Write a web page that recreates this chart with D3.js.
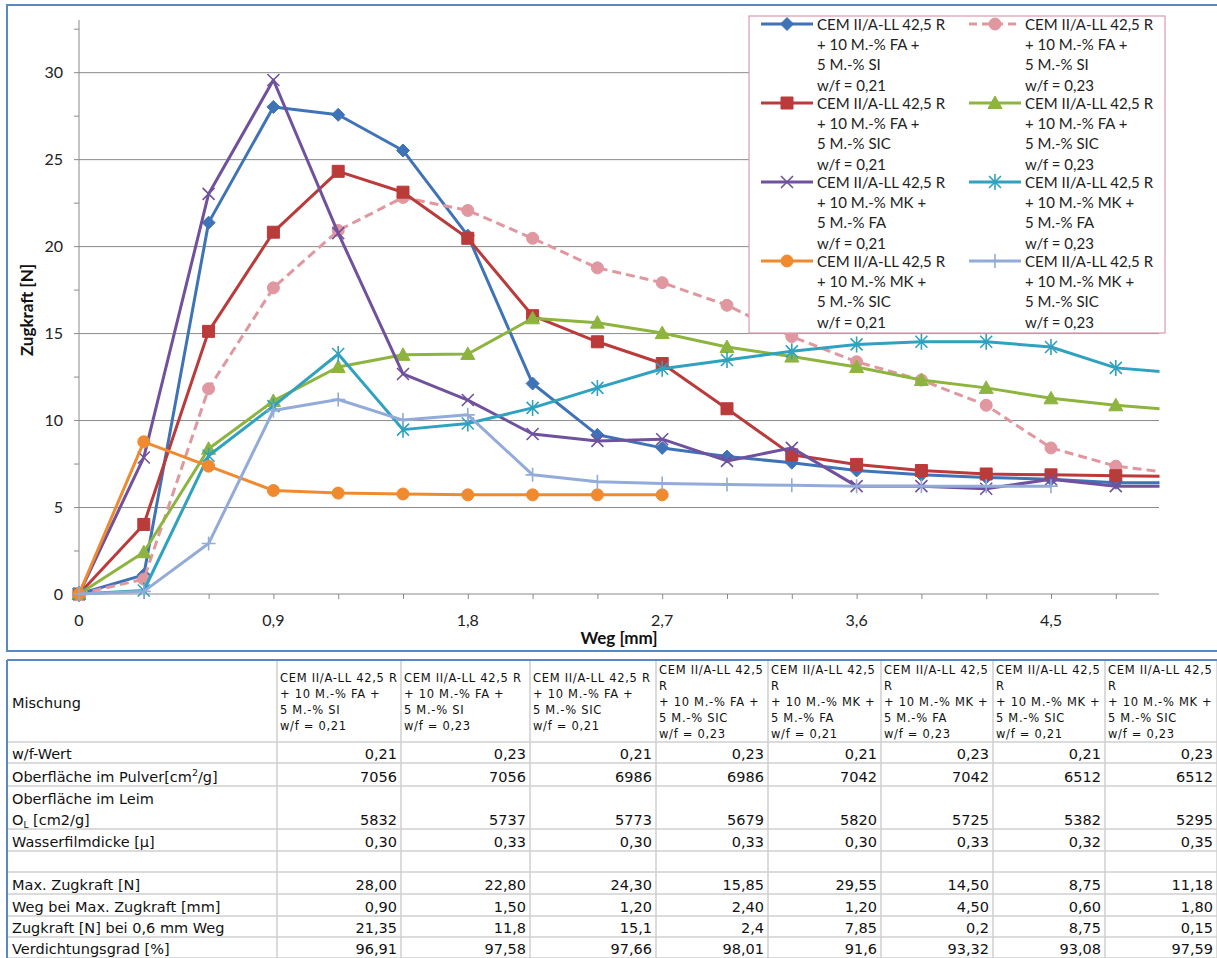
<!DOCTYPE html>
<html>
<head>
<meta charset="utf-8">
<script src="https://cdn.jsdelivr.net/npm/d3@7"></script>
<style>
  html, body { margin: 0; padding: 0; background: #fff; }
  svg { display: block; }
</style>
</head>
<body>
<svg id="chart" width="1217" height="958"></svg>
<script>
// ---- Messwerte: Zugkraft [N] über Weg [mm] ----
const weg = [0, 0.3, 0.6, 0.9, 1.2, 1.5, 1.8, 2.1, 2.4, 2.7, 3.0, 3.3, 3.6, 3.9, 4.2, 4.5, 4.8, 5.1];

const faSi021   = [0, 1.1, 21.35, 28.0, 27.55, 25.5, 20.6, 12.1, 9.15, 8.4, 7.9, 7.55, 7.1, 6.85, 6.7, 6.6, 6.4, 6.4];
const faSi023   = [0, 0.85, 11.8, 17.6, 20.9, 22.8, 22.05, 20.45, 18.75, 17.9, 16.6, 14.8, 13.35, 12.3, 10.85, 8.4, 7.35, 6.9];
const faSic021  = [0, 4.0, 15.1, 20.8, 24.3, 23.1, 20.45, 16.0, 14.5, 13.25, 10.65, 8.0, 7.45, 7.1, 6.9, 6.85, 6.8, 6.75];
const faSic023  = [0, 2.4, 8.35, 11.1, 13.05, 13.75, 13.8, 15.85, 15.6, 15.0, 14.2, 13.65, 13.05, 12.3, 11.85, 11.25, 10.85, 10.55];
const mkFa021   = [0, 7.85, 23.0, 29.55, 20.75, 12.65, 11.15, 9.2, 8.8, 8.9, 7.65, 8.4, 6.2, 6.2, 6.05, 6.6, 6.2, 6.2];
const mkFa023   = [0, 0.2, 7.95, 10.8, 13.8, 9.45, 9.8, 10.7, 11.85, 12.95, 13.45, 13.95, 14.35, 14.5, 14.5, 14.2, 13.0, 12.7];
const mkSic021  = [0, 8.75, 7.35, 5.95, 5.8, 5.75, 5.7, 5.7, 5.7, 5.7];
const mkSic023  = [0, 0.15, 2.9, 10.55, 11.18, 10.0, 10.3, 6.85, 6.45, 6.35, 6.3, 6.25, 6.2, 6.2, 6.2, 6.2];

const legendLabels = [
  ["CEM II/A-LL 42,5 R", "+ 10 M.-% FA +", "5 M.-% SI", "w/f = 0,21"],
  ["CEM II/A-LL 42,5 R", "+ 10 M.-% FA +", "5 M.-% SI", "w/f = 0,23"],
  ["CEM II/A-LL 42,5 R", "+ 10 M.-% FA +", "5 M.-% SIC", "w/f = 0,21"],
  ["CEM II/A-LL 42,5 R", "+ 10 M.-% FA +", "5 M.-% SIC", "w/f = 0,23"],
  ["CEM II/A-LL 42,5 R", "+ 10 M.-% MK +", "5 M.-% FA", "w/f = 0,21"],
  ["CEM II/A-LL 42,5 R", "+ 10 M.-% MK +", "5 M.-% FA", "w/f = 0,23"],
  ["CEM II/A-LL 42,5 R", "+ 10 M.-% MK +", "5 M.-% SIC", "w/f = 0,21"],
  ["CEM II/A-LL 42,5 R", "+ 10 M.-% MK +", "5 M.-% SIC", "w/f = 0,23"]
];

const xTickValues  = [0, 0.3, 0.6, 0.9, 1.2, 1.5, 1.8, 2.1, 2.4, 2.7, 3.0, 3.3, 3.6, 3.9, 4.2, 4.5, 4.8];
const xLabelValues = [0, 0.9, 1.8, 2.7, 3.6, 4.5];
const yTickValues  = [0, 5, 10, 15, 20, 25, 30];
const yMinorValues = [0, 2.5, 5, 7.5, 10, 12.5, 15, 17.5, 20, 22.5, 25, 27.5, 30, 32.5];

// ---- Tabelle ----
const tableHeaders = [
  ["CEM II/A-LL 42,5 R", "+ 10 M.-% FA +", "5 M.-% SI", "w/f = 0,21"],
  ["CEM II/A-LL 42,5 R", "+ 10 M.-% FA +", "5 M.-% SI", "w/f = 0,23"],
  ["CEM II/A-LL 42,5 R", "+ 10 M.-% FA +", "5 M.-% SIC", "w/f = 0,21"],
  ["CEM II/A-LL 42,5", "R", "+ 10 M.-% FA +", "5 M.-% SIC", "w/f = 0,23"],
  ["CEM II/A-LL 42,5", "R", "+ 10 M.-% MK +", "5 M.-% FA", "w/f = 0,21"],
  ["CEM II/A-LL 42,5", "R", "+ 10 M.-% MK +", "5 M.-% FA", "w/f = 0,23"],
  ["CEM II/A-LL 42,5", "R", "+ 10 M.-% MK +", "5 M.-% SIC", "w/f = 0,21"],
  ["CEM II/A-LL 42,5", "R", "+ 10 M.-% MK +", "5 M.-% SIC", "w/f = 0,23"]
];
const wfWert          = ["0,21", "0,23", "0,21", "0,23", "0,21", "0,23", "0,21", "0,23"];
const oberflPulver    = ["7056", "7056", "6986", "6986", "7042", "7042", "6512", "6512"];
const oberflLeim      = ["5832", "5737", "5773", "5679", "5820", "5725", "5382", "5295"];
const wasserfilm      = ["0,30", "0,33", "0,30", "0,33", "0,30", "0,33", "0,32", "0,35"];
const maxZugkraft     = ["28,00", "22,80", "24,30", "15,85", "29,55", "14,50", "8,75", "11,18"];
const wegBeiMax       = ["0,90", "1,50", "1,20", "2,40", "1,20", "4,50", "0,60", "1,80"];
const zugkraftBei06   = ["21,35", "11,8", "15,1", "2,4", "7,85", "0,2", "8,75", "0,15"];
const verdichtung     = ["96,91", "97,58", "97,66", "98,01", "91,6", "93,32", "93,08", "97,59"];

// ---- Darstellung der Reihen ----
const seriesStyle = [
  { values: faSi021,  color: "#3f73b8", marker: "diamond" },
  { values: faSi023,  color: "#e0979f", marker: "circle", dash: "9,5" },
  { values: faSic021, color: "#bb3a3a", marker: "square" },
  { values: faSic023, color: "#8db43e", marker: "triangle" },
  { values: mkFa021,  color: "#6f519d", marker: "cross" },
  { values: mkFa023,  color: "#2ea2bf", marker: "star" },
  { values: mkSic021, color: "#ef8a2e", marker: "circle" },
  { values: mkSic023, color: "#93abd8", marker: "plus" }
];

const svg = d3.select("#chart");

// Diagrammrahmen
svg.append("rect").attr("x", 7).attr("y", 5).attr("width", 1230).attr("height", 646)
  .attr("fill", "#fff").attr("stroke", "#5b88c3").attr("stroke-width", 2);

const x = d3.scaleLinear().domain([0, 5]).range([79, 1159]);
const y = d3.scaleLinear().domain([0, 33]).range([594, 20]);
const de = d3.formatLocale({ decimal: ",", thousands: ".", grouping: [3], currency: ["", " €"] });
const fmt = de.format("~g");
const gridColor = "#8a8a8a";
const chartFont = "Lato, 'Open Sans', sans-serif";

// horizontale Gitterlinien
svg.append("g")
  .attr("transform", `translate(${x(0)},0)`)
  .call(d3.axisLeft(y).tickValues(yTickValues.filter(d => d > 0)).tickSize(-(x(5) - x(0))).tickFormat(""))
  .call(g => g.select(".domain").remove())
  .call(g => g.selectAll("line").attr("stroke", gridColor).attr("stroke-width", 1));

// y-Achse mit Teilstrichen
svg.append("g")
  .attr("transform", `translate(${x(0)},0)`)
  .call(d3.axisLeft(y).tickValues(yMinorValues).tickSize(5).tickFormat(""))
  .call(g => g.select(".domain").attr("stroke", gridColor).attr("d", `M0,${y(0)}V${y(33)}`))
  .call(g => g.selectAll("line").attr("stroke", gridColor));

svg.append("g").selectAll("text").data(yTickValues).join("text")
  .attr("x", 63).attr("y", d => y(d) + 6)
  .attr("text-anchor", "end")
  .attr("font-family", chartFont).attr("font-size", 16).attr("fill", "#222")
  .text(fmt);

// x-Achse
svg.append("g")
  .attr("transform", `translate(0,${y(0)})`)
  .call(d3.axisBottom(x).tickValues(xTickValues).tickSize(5).tickFormat(""))
  .call(g => g.select(".domain").attr("stroke", gridColor).attr("d", `M${x(0)},0H${x(5)}`))
  .call(g => g.selectAll("line").attr("stroke", gridColor));

svg.append("g").selectAll("text").data(xLabelValues).join("text")
  .attr("x", d => x(d)).attr("y", 626)
  .attr("text-anchor", "middle")
  .attr("font-family", chartFont).attr("font-size", 16).attr("fill", "#222")
  .text(fmt);

// Achsentitel
svg.append("text").attr("x", (x(0) + x(5)) / 2).attr("y", 644)
  .attr("text-anchor", "middle")
  .attr("font-family", chartFont).attr("font-size", 17).attr("font-weight", "bold").attr("fill", "#111")
  .text("Weg [mm]");
svg.append("text").attr("transform", "translate(33,310) rotate(-90)")
  .attr("text-anchor", "middle")
  .attr("font-family", chartFont).attr("font-size", 17).attr("font-weight", "bold").attr("fill", "#111")
  .text("Zugkraft [N]");

// Markerformen
const markerPaths = {
  diamond:  { d: "M0,-6.5L6.5,0L0,6.5L-6.5,0Z", filled: true },
  square:   { d: "M-6,-6H6V6H-6Z", filled: true },
  circle:   { d: "M6,0A6,6 0 1,1 -6,0A6,6 0 1,1 6,0Z", filled: true },
  triangle: { d: "M0,-7L7,5.5H-7Z", filled: true },
  cross:    { d: "M-6,-6L6,6M-6,6L6,-6", filled: false },
  star:     { d: "M-6,-6L6,6M-6,6L6,-6M0,-8V8", filled: false },
  plus:     { d: "M0,-7V7M-7,0H7", filled: false }
};
function drawMarker(sel, type, color) {
  const m = markerPaths[type];
  sel.attr("d", m.d)
    .attr("fill", m.filled ? color : "none")
    .attr("stroke", color)
    .attr("stroke-width", m.filled ? 1 : 1.6);
}

// Kurven (rechts am Achsende abgeschnitten)
svg.append("clipPath").attr("id", "plotClip")
  .append("rect").attr("x", 0).attr("y", 0).attr("width", x(5) + 0.5).attr("height", 650);

const plot = svg.append("g").attr("clip-path", "url(#plotClip)");
const line = d3.line().x((d, i) => x(weg[i])).y(d => y(d));

seriesStyle.forEach(s => {
  const g = plot.append("g");
  g.append("path").datum(s.values)
    .attr("d", line)
    .attr("fill", "none")
    .attr("stroke", s.color)
    .attr("stroke-width", 3)
    .attr("stroke-linejoin", "round")
    .attr("stroke-dasharray", s.dash || null);
  g.selectAll("path.mk").data(s.values).join("path")
    .attr("class", "mk")
    .attr("transform", (d, i) => `translate(${x(weg[i])},${y(d)})`)
    .call(sel => drawMarker(sel, s.marker, s.color));
});

// Legende
const legend = svg.append("g");
legend.append("rect").attr("x", 749).attr("y", 16).attr("width", 416).attr("height", 317)
  .attr("fill", "#fff").attr("stroke", "#d99aae").attr("stroke-width", 1.2);

seriesStyle.forEach((s, i) => {
  const col = i % 2, row = Math.floor(i / 2);
  const lx = col === 0 ? 761 : 969;
  const ly = 24 + row * 79;
  const g = legend.append("g");
  g.append("line").attr("x1", lx).attr("x2", lx + 52).attr("y1", ly).attr("y2", ly)
    .attr("stroke", s.color).attr("stroke-width", 3).attr("stroke-dasharray", s.dash ? "8,5" : null);
  g.append("path").attr("transform", `translate(${lx + 26},${ly})`)
    .call(sel => drawMarker(sel, s.marker, s.color));
  g.selectAll("text").data(legendLabels[i]).join("text")
    .attr("x", lx + 56)
    .attr("y", (d, k) => ly + k * 20.4 + 5.5)
    .attr("font-family", chartFont).attr("font-size", 15).attr("fill", "#222")
    .text(d => d);
});

// ---- Tabelle zeichnen ----
const colEdges = [7, 277, 401, 530, 656, 768, 881, 993, 1105, 1217];
const rowEdges = [660, 742, 763, 786, 829, 851, 872, 894, 916, 937, 958];
const table = svg.append("g");
const cellGrid = "#cfcfcf";

rowEdges.slice(1).forEach(yy => {
  table.append("line").attr("x1", 7).attr("x2", 1217).attr("y1", yy).attr("y2", yy)
    .attr("stroke", cellGrid).attr("stroke-width", 1.5);
});
colEdges.slice(1).forEach(xx => {
  table.append("line").attr("x1", xx).attr("x2", xx).attr("y1", 660).attr("y2", 958)
    .attr("stroke", cellGrid).attr("stroke-width", 1.5);
});
table.append("line").attr("x1", 7).attr("x2", 1217).attr("y1", 660).attr("y2", 660)
  .attr("stroke", "#5b88c3").attr("stroke-width", 2);
table.append("line").attr("x1", 7).attr("x2", 7).attr("y1", 660).attr("y2", 958)
  .attr("stroke", "#5b88c3").attr("stroke-width", 2);

const bodyFont = "'DejaVu Sans', Verdana, sans-serif";

// Kopfzeile
table.append("text").attr("x", 12).attr("y", 708)
  .attr("font-family", bodyFont).attr("font-size", 14.5).attr("fill", "#111")
  .text("Mischung");

tableHeaders.forEach((lines, c) => {
  const left = colEdges[c + 1] + 3;
  const n = lines.length;
  table.append("g").selectAll("text").data(lines).join("text")
    .attr("x", left)
    .attr("y", (d, k) => 701.5 + (k - (n - 1) / 2) * 16 + 4)
    .attr("font-family", bodyFont).attr("font-size", 11.5).attr("letter-spacing", 0.7).attr("fill", "#111")
    .text(d => d);
});

// Zeilenbeschriftungen und Werte
const bodyRows = [
  { label: "w/f-Wert", values: wfWert, row: 1 },
  { label: "Oberfläche im Pulver", values: oberflPulver, row: 2, unitSup: true },
  { label: "Oberfläche im Leim", values: oberflLeim, row: 3, twoLine: true },
  { label: "Wasserfilmdicke [µ]", values: wasserfilm, row: 4 },
  { label: "Max. Zugkraft [N]", values: maxZugkraft, row: 6 },
  { label: "Weg bei Max. Zugkraft [mm]", values: wegBeiMax, row: 7 },
  { label: "Zugkraft [N] bei 0,6 mm Weg", values: zugkraftBei06, row: 8 },
  { label: "Verdichtungsgrad [%]", values: verdichtung, row: 9 }
];

bodyRows.forEach(r => {
  const base = rowEdges[r.row + 1] - 4;
  if (r.unitSup) {
    const t = table.append("text").attr("x", 12).attr("y", base)
      .attr("font-family", bodyFont).attr("font-size", 14.5).attr("fill", "#111");
    t.append("tspan").text("Oberfläche im Pulver[cm");
    t.append("tspan").attr("font-size", 9.5).attr("dy", -6).text("2");
    t.append("tspan").attr("dy", 6).text("/g]");
  } else if (r.twoLine) {
    table.append("text").attr("x", 12).attr("y", base - 21)
      .attr("font-family", bodyFont).attr("font-size", 14.5).attr("fill", "#111")
      .text(r.label);
    const t = table.append("text").attr("x", 12).attr("y", base)
      .attr("font-family", bodyFont).attr("font-size", 14.5).attr("fill", "#111");
    t.append("tspan").text("O");
    t.append("tspan").attr("font-size", 9).attr("dy", 3).text("L");
    t.append("tspan").attr("dy", -3).text(" [cm2/g]");
  } else {
    table.append("text").attr("x", 12).attr("y", base)
      .attr("font-family", bodyFont).attr("font-size", 14.5).attr("fill", "#111")
      .text(r.label);
  }
  table.append("g").selectAll("text").data(r.values).join("text")
    .attr("x", (d, c) => colEdges[c + 2] - 4)
    .attr("y", base)
    .attr("text-anchor", "end")
    .attr("font-family", bodyFont).attr("font-size", 14.5).attr("fill", "#111")
    .text(d => d);
});
</script>
</body>
</html>
